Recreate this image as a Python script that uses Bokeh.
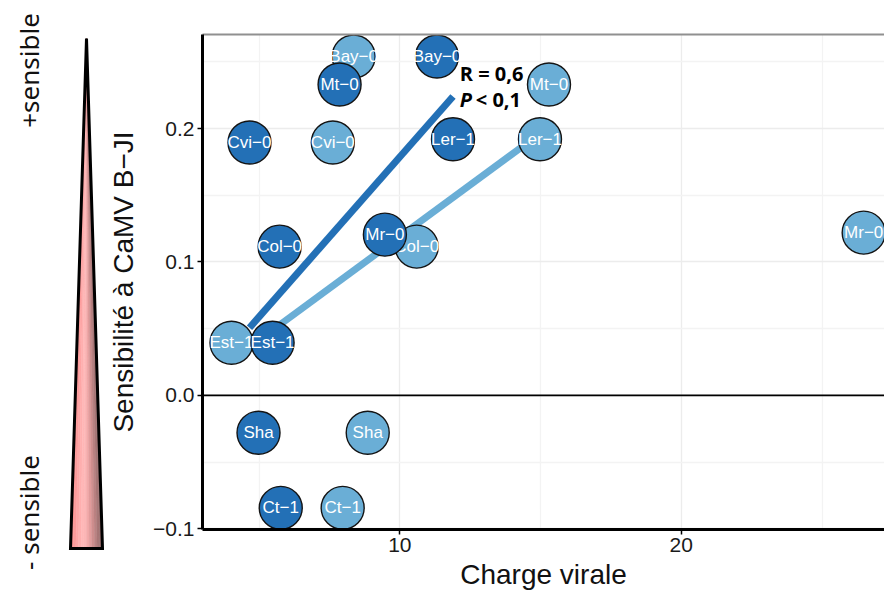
import math
from bokeh.plotting import figure
from bokeh.layouts import row
from bokeh.models import (Range1d, FixedTicker, LinearAxis, Span, ColumnDataSource,
                          CustomJSTickFormatter)
from bokeh.core.properties import value
from bokeh.embed import file_html
from bokeh.resources import INLINE

# ---------------- data ----------------
accessions = ["Bay−0", "Mt−0", "Cvi−0", "Ler−1", "Col−0", "Mr−0", "Est−1", "Sha", "Ct−1"]
dark_x = [11.32, 7.86, 4.66, 11.89, 5.73, 9.47, 5.48, 4.98, 5.77]
dark_y = [0.254, 0.233, 0.1895, 0.192, 0.1115, 0.1205, 0.0395, -0.028, -0.0843]
light_x = [8.36, 15.30, 7.62, 14.98, 10.60, 26.48, 4.02, 8.86, 7.97]
light_y = [0.254, 0.233, 0.1895, 0.192, 0.1115, 0.122, 0.0395, -0.028, -0.0843]

# fitted regression segments
dark_fit_x = [4.66, 11.89]
dark_fit_y = [0.0507, 0.224]
light_fit_x = [4.02, 15.30]
light_fit_y = [0.0263, 0.2012]

x_ticks = [10, 20]
x_minor = [5, 15, 25]
y_ticks = [-0.1, 0.0, 0.1, 0.2]
y_minor = [-0.05, 0.05, 0.15, 0.25]

stat_text = ["R = 0,6", "P", "< 0,1"]

DARK = "#2370b6"
LIGHT = "#6aaed6"
FONT = "Liberation Sans"

W_LEFT = 104
W_MAIN = 780
H = 592
B_TOP = 34
B_BOTTOM = 63

# ---------------- left decoration (triangle) ----------------
# coordinates of this panel: x = page pixels, y = minus page pixels
left = figure(width=W_LEFT, height=H, x_range=Range1d(0, W_LEFT),
              y_range=Range1d(-(H - B_BOTTOM), -B_TOP),
              output_backend="svg", toolbar_location=None, min_border_left=0,
              min_border_right=0, min_border_top=B_TOP, min_border_bottom=B_BOTTOM)
left.axis.visible = False
left.grid.visible = False
left.outline_line_color = None
left.background_fill_color = None
left.border_fill_color = None

apex = (86, -38)
base_l, base_r, base_y = 70, 102, -548
grad = ["#fb9191", "#fc9a9a", "#fda5a5", "#feafaf", "#ffb7b7", "#fcb6b6",
        "#f3aaaa", "#e29c9c", "#cf8e8e", "#bb8282", "#a87676", "#9a6e6e"]
n = len(grad)
for i, c in enumerate(grad):
    x0 = base_l + (base_r - base_l) * i / n
    x1 = base_l + (base_r - base_l) * (i + 1) / n
    r = left.patch([apex[0], x0, x1], [apex[1], base_y, base_y], fill_color=c,
                   line_color=c, line_width=0.5)
    r.level = "overlay"
r = left.patch([apex[0], base_l, base_r], [apex[1], base_y, base_y], fill_color=None,
               line_color="black", line_width=3, line_join="miter")
r.level = "overlay"
r = left.text(x=[28, 28], y=[-70, -512], text=["+sensible", "- sensible"], angle=math.pi / 2,
              text_align="center", text_baseline="middle", text_font=value("Noto Sans"),
              text_font_size="26px", text_color="#111111")
r.level = "overlay"

# ---------------- main plot ----------------
p = figure(width=W_MAIN, height=H, x_range=Range1d(2.99, 27.22),
           y_range=Range1d(-0.1005, 0.2705), output_backend="svg",
           toolbar_location=None, min_border_left=203 - W_LEFT - 1, min_border_right=0,
           min_border_top=B_TOP, min_border_bottom=B_BOTTOM)
p.outline_line_color = None
p.background_fill_color = "white"

p.xaxis.ticker = FixedTicker(ticks=x_ticks, minor_ticks=x_minor)
p.yaxis.ticker = FixedTicker(ticks=y_ticks, minor_ticks=y_minor)
p.yaxis.formatter = CustomJSTickFormatter(code="return tick.toFixed(1).replace('-', '\u2212');")

for g in (p.xgrid, p.ygrid):
    g.grid_line_color = "#ececec"
    g.grid_line_width = 1.3
    g.minor_grid_line_color = "#f3f3f3"
    g.minor_grid_line_width = 1.3

for ax in (p.xaxis, p.yaxis):
    ax.axis_line_color = "black"
    ax.axis_line_width = 3
    ax.major_tick_line_color = "black"
    ax.major_tick_line_width = 1.5
    ax.major_tick_out = 5
    ax.major_tick_in = 0
    ax.minor_tick_line_color = None
    ax.major_label_text_font = FONT
    ax.major_label_text_font_size = "21px"
    ax.major_label_text_color = "#1a1a1a"
    ax.axis_label_text_font = FONT
    ax.axis_label_text_font_size = "28px"
    ax.axis_label_text_font_style = "normal"
    ax.axis_label_text_color = "#111111"

p.xaxis.axis_label = "Charge virale"
p.yaxis.axis_label = "Sensibilité à CaMV B−JI"
p.xaxis.major_label_standoff = 3
p.xaxis.axis_label_standoff = 4
p.yaxis.major_label_standoff = 3
p.yaxis.axis_label_standoff = 11

top = LinearAxis(ticker=FixedTicker(ticks=[]), axis_line_color="#909090", axis_line_width=2,
                 major_tick_line_color=None, minor_tick_line_color=None,
                 major_label_text_font_size="0px")
p.add_layout(top, "above")

p.add_layout(Span(location=0, dimension="width", line_color="black", line_width=1.6))

p.line(light_fit_x, light_fit_y, line_color=LIGHT, line_width=7, line_cap="butt")
p.line(dark_fit_x, dark_fit_y, line_color=DARK, line_width=7, line_cap="butt")

light_src = ColumnDataSource(dict(x=light_x, y=light_y, lab=accessions))
dark_src = ColumnDataSource(dict(x=dark_x, y=dark_y, lab=accessions))

for src, col in ((light_src, LIGHT), (dark_src, DARK)):
    p.scatter("x", "y", source=src, marker="circle", size=43, fill_color=col,
              line_color="#141414", line_width=1.4)
    p.text("x", "y", text="lab", source=src, text_align="center", text_baseline="middle",
           text_font=value(FONT), text_font_size="17px", text_color="white")

p.text(x=[12.13], y=[0.2412], text=[stat_text[0]], text_align="left", text_baseline="middle",
       text_font=value("Open Sans"), text_font_size="20px", text_font_style="bold",
       text_color="black")
p.text(x=[12.13], y=[0.2218], text=[stat_text[1]], text_align="left", text_baseline="middle",
       text_font=value("Open Sans"), text_font_size="20px", text_font_style="bold italic",
       text_color="black")
p.text(x=[12.70], y=[0.2218], text=[stat_text[2]], text_align="left", text_baseline="middle",
       text_font=value("Open Sans"), text_font_size="20px", text_font_style="bold",
       text_color="black")

layout = row(left, p)
open("out.html", "w").write(file_html(layout, INLINE))
